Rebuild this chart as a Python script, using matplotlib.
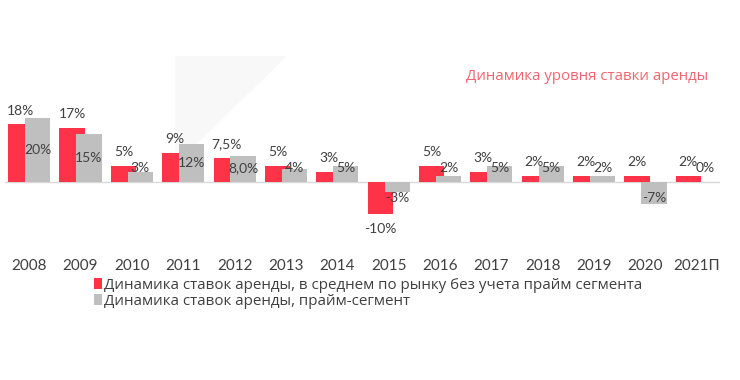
import matplotlib.pyplot as plt
from matplotlib.patches import Polygon, Patch

plt.rcParams['font.family'] = ['Lato', 'DejaVu Sans']

# данные
years = ["2008", "2009", "2010", "2011", "2012", "2013", "2014",
         "2015", "2016", "2017", "2018", "2019", "2020", "2021П"]
market = [18, 17, 5, 9, 7.5, 5, 3, -10, 5, 3, 2, 2, 2, 2]
market_lbl = ["18%", "17%", "5%", "9%", "7,5%", "5%", "3%", "-10%",
              "5%", "3%", "2%", "2%", "2%", "2%"]
prime = [20, 15, 3, 12, 8, 4, 5, -3, 2, 5, 5, 2, -7, 0]
prime_lbl = ["20%", "15%", "3%", "12%", "8,0%", "4%", "5%", "-3%",
             "2%", "5%", "5%", "2%", "-7%", "0%"]

red = "#FF3347"
grey = "#BFBFBF"
txt = "#404040"

W, H = 740, 380
fig = plt.figure(figsize=(W / 100, H / 100), dpi=100)

# бледная декоративная фигура на фоне
bg = fig.add_axes([0, 0, 1, 1], zorder=-1)
bg.set_xlim(0, W)
bg.set_ylim(H, 0)
bg.axis("off")
bg.add_patch(Polygon([(175, 56), (287, 56), (175, 165)], closed=True,
                     facecolor="#F8F8F8", edgecolor="none"))

# оси: слева 5px, справа 720px, сверху 95px, снизу 235px
ax = fig.add_axes([5 / W, 1 - 235 / H, 715 / W, 140 / H], zorder=1)
ax.patch.set_alpha(0)

x = list(range(len(years)))
w = 0.49
off = 0.165
ax.bar([i - off for i in x], market, width=w, color=red, zorder=2)
ax.bar([i + off for i in x], prime, width=w, color=grey, zorder=3)

ax.axhline(0, color="#D9D9D9", lw=1, zorder=1)

ax.set_xlim(-0.47, 13.45)
ax.set_ylim(-16.6, 27.2)

for i in x:
    v = market[i]
    ax.annotate(market_lbl[i], (i - off, v), xytext=(0, 10 if v >= 0 else -11),
                textcoords="offset points", ha="center", va="center",
                fontsize=10, color=txt, zorder=5)
    p = prime[i]
    yl = max(p / 2, 4.4) if p >= 0 else min(p / 2, -5.0)
    ax.text(i + off, yl, prime_lbl[i], ha="center", va="center",
            fontsize=10, color=txt, zorder=5)

ax.set_xticks(x)
ax.set_xticklabels(years, fontsize=11, color=txt)
ax.tick_params(axis="x", length=0, pad=17)
ax.set_yticks([])
for s in ax.spines.values():
    s.set_visible(False)

fig.text(708 / W, 1 - 77 / H, "Динамика уровня ставки аренды", ha="right", va="center",
         fontsize=10.8, color="#F26570", family=["Open Sans", "DejaVu Sans"])

handles = [Patch(facecolor=red, edgecolor="none"), Patch(facecolor=grey, edgecolor="none")]
labels = ["Динамика ставок аренды, в среднем по рынку без учета прайм сегмента",
          "Динамика ставок аренды, прайм-сегмент"]
fig.legend(handles, labels, loc="upper left", bbox_to_anchor=(88 / W, 1 - 272 / H),
           frameon=False, handlelength=0.5, handleheight=0.7,
           handletextpad=0.15, labelspacing=0.05, borderaxespad=0, labelcolor=txt,
           prop={"family": ["Open Sans", "DejaVu Sans"], "size": 10.9})

fig.savefig("out.png", dpi=100)
